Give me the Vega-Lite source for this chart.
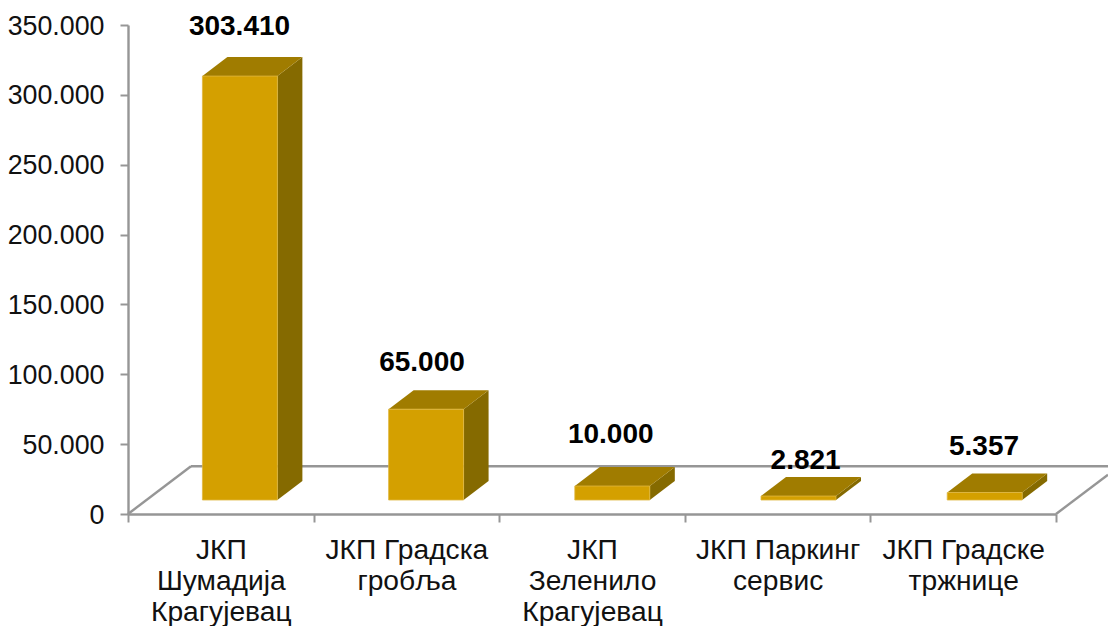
{
"$schema":"https://vega.github.io/schema/vega-lite/v6.json",
"width":928,"height":489,
"autosize":{"type":"none"},
"padding":{"left":128,"top":25,"right":52,"bottom":112},
"background":"white",
"config":{"view":{"stroke":null},"font":"Liberation Sans"},
"datasets":{
"bars":[
{"category":"ЈКП Шумадија Крагујевац","value":303410},
{"category":"ЈКП Градска гробља","value":65000},
{"category":"ЈКП Зеленило Крагујевац","value":10000},
{"category":"ЈКП Паркинг сервис","value":2821},
{"category":"ЈКП Градске тржнице","value":5357}
],
"floor":[
{"seg":"left","fx":0,"fy":0},{"seg":"left","fx":0.3394,"fy":34140},
{"seg":"back","fx":0.3394,"fy":34140},{"seg":"back","fx":5.2802,"fy":34140},
{"seg":"right","fx":5,"fy":0},{"seg":"right","fx":5.2802,"fy":28185}
]
},
"layer":[
{"data":{"name":"floor"},
"mark":{"type":"line","color":"#969696","strokeWidth":2.4,"clip":false},
"encoding":{
"x":{"field":"fx","type":"quantitative","scale":{"domain":[0,5],"nice":false,"zero":false},
"axis":{"title":null,"grid":false,"values":[0,0.5,1,1.5,2,2.5,3,3.5,4,4.5,5],
"domainColor":"#969696","domainWidth":2.4,"tickColor":"#969696","tickWidth":2,"tickSize":8,
"tickOpacity":{"condition":{"test":"datum.value % 1 === 0","value":1},"value":0},
"labelFontSize":28.2,"labelColor":"#111111","labelFont":"Liberation Sans","labelPadding":14,"labelLineHeight":31,
"labelOverlap":false,"labelBound":false,"labelFlush":false,"labelAngle":0,"labelBaseline":"top","labelAlign":"center",
"labelExpr":"datum.value===0.5?['ЈКП','Шумадија','Крагујевац']:datum.value===1.5?['ЈКП Градска','гробља']:datum.value===2.5?['ЈКП','Зеленило','Крагујевац']:datum.value===3.5?['ЈКП Паркинг','сервис']:datum.value===4.5?['ЈКП Градске','тржнице']:''"}},
"y":{"field":"fy","type":"quantitative","scale":{"domain":[0,350000],"nice":false},
"axis":{"title":null,"grid":false,"values":[0,50000,100000,150000,200000,250000,300000,350000],
"domainColor":"#969696","domainWidth":2.4,"tickColor":"#969696","tickWidth":2,"tickSize":8,
"labelFontSize":26.8,"labelColor":"#111111","labelFont":"Liberation Sans","labelPadding":16,"labelOffset":1,
"labelExpr":"replace(format(datum.value,','),',','.')"}},
"detail":{"field":"seg"}
}},
{"data":{"name":"bars"},
"transform":[
{"window":[{"op":"row_number","as":"n"}]},
{"calculate":"(datum.n-1)*1.00323+0.4009","as":"xl"},
{"calculate":"datum.xl+0.404","as":"xr"},
{"calculate":"[0,1]","as":"t"},{"flatten":["t"]},
{"calculate":"datum.xr+datum.t*0.1347","as":"sx"},
{"calculate":"10020+datum.t*13591","as":"sy0"},
{"calculate":"datum.value+10020+datum.t*13591","as":"sy1"}
],
"mark":{"type":"area","color":"#856A00"},
"encoding":{
"x":{"field":"sx","type":"quantitative"},
"y":{"field":"sy1","type":"quantitative"},
"y2":{"field":"sy0"},
"detail":{"field":"category"}
}},
{"data":{"name":"bars"},
"transform":[
{"window":[{"op":"row_number","as":"n"}]},
{"calculate":"(datum.n-1)*1.00323+0.4009","as":"xl"},
{"calculate":"datum.xl+0.404","as":"xr"},
{"calculate":"[0,1]","as":"t"},{"flatten":["t"]},
{"calculate":"datum.xl+datum.t*0.1347","as":"tx0"},
{"calculate":"datum.xr+datum.t*0.1347","as":"tx1"},
{"calculate":"datum.value+10020+datum.t*13591","as":"ty"}
],
"mark":{"type":"area","color":"#A07C00","orient":"horizontal"},
"encoding":{
"y":{"field":"ty","type":"quantitative"},
"x":{"field":"tx0","type":"quantitative"},
"x2":{"field":"tx1"},
"detail":{"field":"category"}
}},
{"data":{"name":"bars"},
"transform":[
{"window":[{"op":"row_number","as":"n"}]},
{"calculate":"(datum.n-1)*1.00323+0.4009","as":"xl"},
{"calculate":"datum.xl+0.404","as":"xr"},
{"calculate":"10020","as":"base"},
{"calculate":"datum.value+10020","as":"top"}
],
"mark":{"type":"rect","color":"#D4A000","stroke":"#E0B840","strokeWidth":0.8},
"encoding":{
"x":{"field":"xl","type":"quantitative"},
"x2":{"field":"xr"},
"y":{"field":"top","type":"quantitative"},
"y2":{"field":"base"}
}},
{"data":{"name":"bars"},
"transform":[
{"window":[{"op":"row_number","as":"n"}]},
{"calculate":"datum.n-1+[0.6008,0.584,0.601,0.651,0.612][datum.n-1]","as":"lx"},
{"calculate":"[348580,108240,56740,37640,47655][datum.n-1]","as":"ly"},
{"calculate":"replace(format(datum.value,','),',','.')","as":"label"}
],
"mark":{"type":"text","fontSize":28,"fontWeight":"bold","color":"#000000","font":"Liberation Sans","align":"center","baseline":"middle"},
"encoding":{
"x":{"field":"lx","type":"quantitative"},
"y":{"field":"ly","type":"quantitative"},
"text":{"field":"label"}
}}
]
}
